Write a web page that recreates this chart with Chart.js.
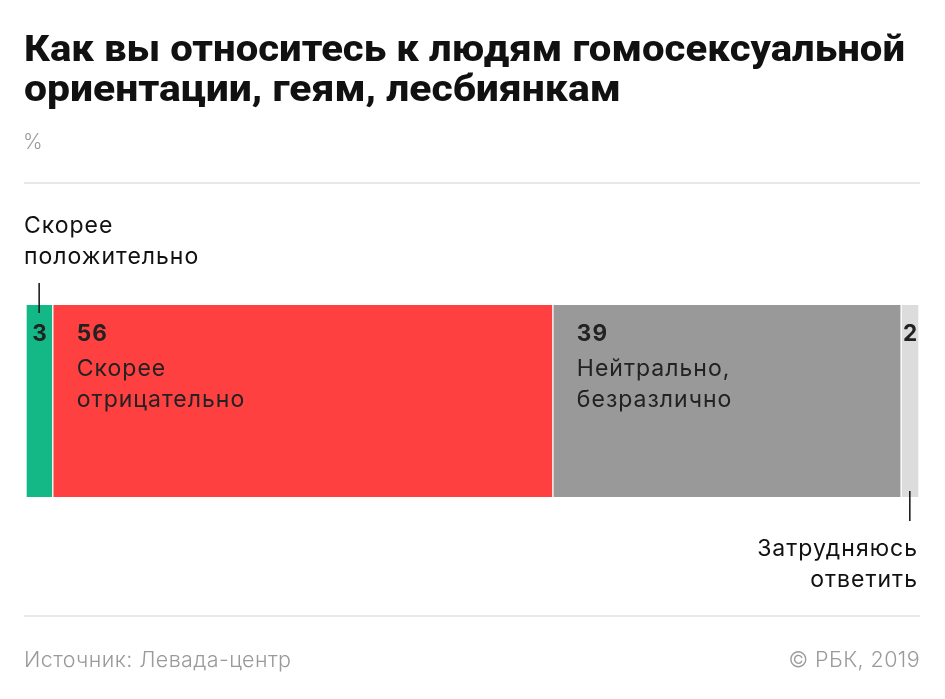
<!DOCTYPE html>
<html>
<head>
<meta charset="utf-8">
<script src="https://cdn.jsdelivr.net/npm/chart.js@4"></script>
<style>
  html, body { margin: 0; padding: 0; background: #fff; }
  #wrap { position: relative; width: 945px; height: 699px; }
</style>
</head>
<body>
<div id="wrap"><canvas id="myChart" width="945" height="699"></canvas></div>
<script>
const titulo = ['Как вы относитесь к людям гомосексуальной', 'ориентации, геям, лесбиянкам'];
const unidad = '%';
const fuente = 'Источник: Левада-центр';
const copy = '© РБК, 2019';

const categorias = ['Скорее положительно', 'Скорее отрицательно', 'Нейтрально, безразлично', 'Затрудняюсь ответить'];
const valores = [3, 56, 39, 2];
const colores = ['#14b886', '#ff4040', '#999999', '#dcdcdc'];
// line breaks of each label
const lineas = [['Скорее', 'положительно'], ['Скорее', 'отрицательно'], ['Нейтрально,', 'безразлично'], ['Затрудняюсь', 'ответить']];

const sans = '"Inter", "Roboto", sans-serif';

const textos = {
  id: 'textos',
  afterDatasetsDraw(chart) {
    const ctx = chart.ctx;
    ctx.save();
    // title, squeezed to fit width like the condensed original
    ctx.fillStyle = '#111';
    ctx.textBaseline = 'alphabetic';
    ctx.font = '800 37px "Roboto", sans-serif';
    const anchos = [881, 597];
    titulo.forEach((t, i) => {
      const w = ctx.measureText(t).width;
      const sx = anchos[i] / w;
      ctx.save();
      ctx.translate(24, 61 + i * 40);
      ctx.scale(sx, 1);
      ctx.fillText(t, 0, 0);
      ctx.restore();
    });
    ctx.fillStyle = '#9a9a9a';
    ctx.font = '300 21px ' + sans;
    ctx.fillText(unidad, 23, 149);

    // rules
    ctx.fillStyle = '#e8e8e8';
    ctx.fillRect(24, 182, 896, 2);
    ctx.fillRect(24, 615, 896, 2);

    // footer
    ctx.fillStyle = '#9a9a9a';
    ctx.font = '300 21.5px ' + sans;
    ctx.letterSpacing = '0.4px';
    ctx.textAlign = 'left';
    ctx.fillText(fuente, 24, 667);
    ctx.textAlign = 'right';
    ctx.fillText(copy, 920, 667);

    // bar labels
    ctx.letterSpacing = '1px';
    chart.data.datasets.forEach((ds, i) => {
      const bar = chart.getDatasetMeta(i).data[0];
      const x0 = Math.min(bar.base, bar.x);
      const x1 = Math.max(bar.base, bar.x);
      const top = bar.y - bar.height / 2;
      const bottom = bar.y + bar.height / 2;
      const ancho = x1 - x0;
      ctx.fillStyle = '#222';
      if (ancho > 100) {
        ctx.textAlign = 'left';
        ctx.font = '700 22.5px ' + sans;
        ctx.fillText(String(ds.data[0]), x0 + 24, top + 36);
        ctx.font = '400 23px ' + sans;
        lineas[i].forEach((l, k) => ctx.fillText(l, x0 + 24, top + 71 + k * 31));
      } else {
        const cx = (x0 + x1) / 2;
        ctx.textAlign = 'center';
        ctx.font = '700 22.5px ' + sans;
        ctx.fillText(String(ds.data[0]), cx + 0.5, top + 36);
        ctx.fillStyle = '#111';
        ctx.font = '400 23px ' + sans;
        if (i === 0) {
          ctx.fillRect(cx - 1, top - 22, 1.5, 30);
          ctx.textAlign = 'left';
          lineas[i].forEach((l, k) => ctx.fillText(l, 24, top - 72 + k * 31));
        } else {
          ctx.fillRect(cx - 1, bottom - 6, 1.5, 30);
          ctx.textAlign = 'right';
          lineas[i].forEach((l, k) => ctx.fillText(l, 918, bottom + 59 + k * 31));
        }
      }
    });
    ctx.restore();
  }
};

const datasets = valores.map((v, i) => ({
  label: categorias[i],
  data: [v],
  backgroundColor: colores[i],
  borderColor: '#ffffff',
  borderWidth: { left: 1, right: 1, top: 0, bottom: 0 },
  borderSkipped: false,
  barPercentage: 1,
  categoryPercentage: 1
}));

let ctx = document.getElementById('myChart').getContext('2d');
let myChart = new Chart(ctx, {
  type: 'bar',
  data: { labels: [''], datasets: datasets },
  options: {
    indexAxis: 'y',
    responsive: false,
    animation: false,
    layout: { padding: { left: 26, right: 26, top: 305, bottom: 202 } },
    scales: {
      x: { stacked: true, min: 0, max: 100, display: false },
      y: { stacked: true, display: false }
    },
    plugins: { legend: { display: false }, tooltip: { enabled: false } }
  },
  plugins: [textos]
});
</script>
</body>
</html>
